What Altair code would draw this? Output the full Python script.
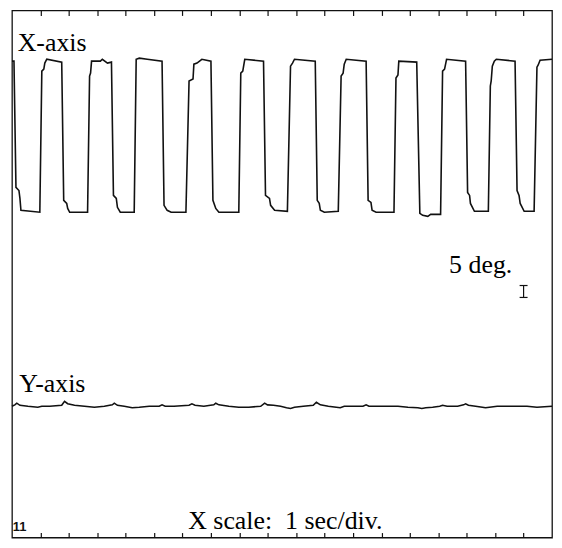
import altair as alt
import pandas as pd

# ---- data (time in seconds, angle in degrees) ----
x_trace_sec = [0, 0.07, 0.14, 0.245, 0.28, 0.315, 0.98, 1.05, 1.12, 1.155, 1.225, 1.75,
               1.82, 1.925, 1.96, 2.03, 2.66, 2.73, 2.765, 2.80, 3.11, 3.18, 3.36, 3.50,
               3.57, 3.67, 3.71, 3.81, 4.30, 4.37, 4.48, 4.76, 5.28,
               5.35, 5.46, 5.60, 6.12, 6.23, 6.37, 6.40, 6.51, 6.68, 7.00,
               7.07, 7.17, 7.28, 7.98, 8.05, 8.12, 8.19, 8.85,
               8.92, 9.06, 9.10, 9.24, 9.69, 9.80, 9.87, 9.94, 10.67,
               10.74, 10.81, 10.85, 10.99, 11.48, 11.58, 11.65, 11.69, 11.76, 12.46,
               12.53, 12.63, 12.67, 12.81, 13.44, 13.51, 13.58, 13.61, 14.24,
               14.35, 14.45, 14.63, 14.73, 15.08, 15.15, 15.22, 15.29, 15.96,
               16.03, 16.10, 16.13, 16.27, 16.76, 16.83, 16.86, 16.90, 16.97, 17.04, 17.70,
               17.77, 17.84, 17.88, 18.02, 18.37, 18.47, 18.51, 18.58, 19.0]
x_trace_deg = [202.5, 202.5, 149.6, 148.3, 145.0, 140.0, 139.2, 198.3, 199.2, 201.7, 203.3, 202.1,
               144.2, 142.9, 140.8, 139.2, 139.2, 196.25, 197.5, 202.5, 202.5, 203.3, 201.7, 202.1,
               146.25, 145.0, 141.25, 139.2, 139.2, 203.3, 203.75, 203.3, 202.5,
               142.1, 140.0, 139.2, 139.2, 194.2, 195.0, 201.25, 201.7, 203.3, 202.5,
               144.2, 140.8, 139.2, 139.2, 197.5, 198.3, 203.3, 202.5,
               146.25, 145.0, 142.1, 140.0, 139.6, 200.4, 201.7, 203.3, 202.5,
               144.2, 142.9, 140.0, 139.2, 139.6, 196.25, 197.5, 201.25, 203.3, 202.5,
               144.2, 143.3, 140.0, 139.2, 139.2, 195.4, 196.7, 202.5, 202.1,
               138.75, 137.9, 137.5, 138.3, 138.3, 198.3, 199.2, 203.3, 202.5,
               147.5, 146.25, 142.9, 139.6, 139.6, 192.1, 194.2, 200.4, 202.5, 203.3, 202.5,
               148.3, 146.25, 142.9, 139.6, 139.6, 200.0, 200.8, 202.9, 203.3]

y_trace_sec = [0, 0.10, 0.17, 0.28, 0.56, 0.91, 1.05, 1.33, 1.75, 1.85, 1.96, 2.20, 2.55, 2.90,
               3.25, 3.53, 3.60, 3.71, 3.95, 4.23, 4.48, 4.83, 5.18, 5.28, 5.39, 5.70, 6.23,
               6.33, 6.44, 6.75, 7.10, 7.17, 7.28, 7.63, 7.98, 8.33, 8.75, 8.89, 8.99, 9.20,
               9.45, 9.66, 9.80, 9.94, 10.25, 10.60, 10.71, 10.85, 11.13, 11.41, 11.55, 11.69,
               12.00, 12.35, 12.46, 12.56, 12.88, 13.30, 13.58, 13.93, 14.28, 14.42, 14.56,
               14.80, 15.05, 15.15, 15.31, 15.68, 15.89, 15.96, 16.06, 16.31, 16.55, 16.66,
               16.80, 17.07, 17.42, 17.77, 18.12, 18.47, 19.0]
y_trace_deg = [57.9, 58.5, 59.2, 58.3, 57.9, 57.5, 57.9, 57.9, 58.3, 60.0, 59.0, 58.3, 57.9, 57.5,
               57.9, 58.5, 59.2, 58.3, 57.9, 57.3, 57.5, 57.9, 57.9, 58.5, 57.9, 57.9, 58.3,
               58.9, 58.3, 57.9, 58.5, 59.2, 58.5, 57.9, 57.5, 57.5, 57.9, 59.2, 58.5, 58.3,
               57.9, 57.3, 57.0, 57.5, 57.9, 58.3, 59.6, 58.5, 57.9, 57.5, 57.3, 57.9,
               57.9, 57.9, 58.5, 57.9, 57.9, 57.9, 57.9, 57.5, 57.3, 57.0, 57.3,
               57.5, 57.9, 58.3, 57.9, 57.9, 58.5, 58.9, 58.3, 57.9, 57.5, 57.3,
               57.5, 57.9, 57.9, 57.9, 57.9, 57.5, 57.9]

tick_seconds = [1, 2, 3, 4, 5, 6, 7, 8, 9, 10, 11, 12, 13, 14, 15, 16, 17, 18]

scale_bar_sec = [18.0]
scale_bar_low = [103.5]
scale_bar_high = [108.5]
scale_bar_half_width = 0.14

label_texts = ["X-axis", "Y-axis", "5 deg.", "X scale:\u00a0 1 sec/div."]
label_sec = [0.2, 0.26, 15.38, 6.2]
label_deg = [206.7, 63.75, 113.75, 6.4]

page_texts = ["11"]
page_sec = [0.03]
page_deg = [5.6]

# ---- tables ----
dfx = pd.DataFrame({"t": x_trace_sec, "deg": x_trace_deg, "i": range(len(x_trace_sec))})
dfy = pd.DataFrame({"t": y_trace_sec, "deg": y_trace_deg, "i": range(len(y_trace_sec))})
dfbar_v = pd.DataFrame({"t": scale_bar_sec, "lo": scale_bar_low, "hi": scale_bar_high})
dfbar_h = pd.DataFrame({
    "t1": [scale_bar_sec[0] - scale_bar_half_width] * 2,
    "t2": [scale_bar_sec[0] + scale_bar_half_width] * 2,
    "deg": [scale_bar_low[0], scale_bar_high[0]],
})
dflab = pd.DataFrame({"text": label_texts, "t": label_sec, "deg": label_deg})
dfpage = pd.DataFrame({"text": page_texts, "t": page_sec, "deg": page_deg})

xs = alt.Scale(domain=[0, 19], nice=False, zero=False)
ys = alt.Scale(domain=[2.9, 223.75], nice=False, zero=False)
ink = "#111111"


def tick_axis(orient):
    return alt.Axis(orient=orient, values=tick_seconds, labels=False, domain=False,
                    grid=False, ticks=True, tickSize=5, tickColor=ink, tickWidth=1.2,
                    offset=-5, title=None)


x_line = alt.Chart(dfx).mark_line(color=ink, strokeWidth=1.6).encode(
    x=alt.X("t:Q", scale=xs, axis=tick_axis("top")),
    y=alt.Y("deg:Q", scale=ys, axis=None),
    order="i:Q",
)
y_line = alt.Chart(dfy).mark_line(color=ink, strokeWidth=1.6).encode(
    x=alt.X("t:Q", scale=xs, axis=tick_axis("bottom")),
    y=alt.Y("deg:Q", scale=ys, axis=None),
    order="i:Q",
)
bar_v = alt.Chart(dfbar_v).mark_rule(color=ink, strokeWidth=1.2).encode(
    x=alt.X("t:Q", scale=xs, axis=None),
    y=alt.Y("lo:Q", scale=ys, axis=None),
    y2="hi:Q",
)
bar_h = alt.Chart(dfbar_h).mark_rule(color=ink, strokeWidth=1.2).encode(
    x=alt.X("t1:Q", scale=xs, axis=None),
    x2="t2:Q",
    y=alt.Y("deg:Q", scale=ys, axis=None),
)
labels = alt.Chart(dflab).mark_text(
    font="Liberation Serif", fontSize=26, color="#000000", align="left", baseline="alphabetic"
).encode(
    x=alt.X("t:Q", scale=xs, axis=None),
    y=alt.Y("deg:Q", scale=ys, axis=None),
    text="text:N",
)
page = alt.Chart(dfpage).mark_text(
    font="Liberation Sans", fontSize=13, fontWeight="bold", color=ink, align="left",
    baseline="alphabetic"
).encode(
    x=alt.X("t:Q", scale=xs, axis=None),
    y=alt.Y("deg:Q", scale=ys, axis=None),
    text="text:N",
)

chart = alt.layer(x_line, y_line, bar_v, bar_h, labels, page).resolve_axis(
    x="independent"
).properties(
    width=543, height=530, autosize="none",
    padding={"left": 4, "top": 1, "right": 2, "bottom": 1},
    background="white",
).configure_view(stroke=ink, strokeWidth=1.3)

chart.save("out.html", embed_options={"renderer": "svg", "actions": False})
